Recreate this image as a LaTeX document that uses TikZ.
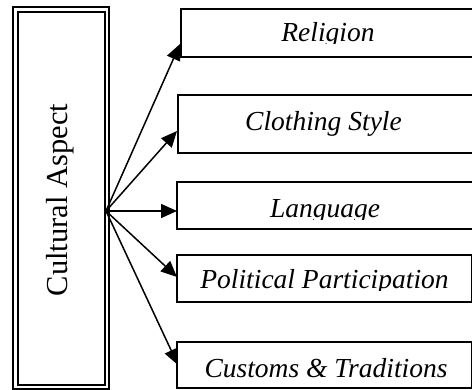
\documentclass[tikz,border=0pt]{standalone}
\usepackage{fontspec}
\setmainfont{Liberation Serif}
\usetikzlibrary{arrows.meta}
\tikzset{
  itembox/.style={draw, line width=1.8pt, inner sep=0pt},
  itemtext/.style={anchor=base, inner sep=0pt, font=\fontsize{27.5}{30}\selectfont\itshape},
  arr/.style={line width=1.5pt, -{Triangle[length=16pt,width=14pt]}},
}
\begin{document}
\begin{tikzpicture}[x=1pt,y=-1pt]
\clip (0,0) rectangle (472,389);
\fill[white] (0,0) rectangle (472,389);
% left double box
\node[draw, double, line width=1.9pt, double distance=2.3pt, minimum width=91.5pt, minimum height=377.5pt, inner sep=0pt] (cult) at (61.25,198.25) {};
\node[rotate=90, anchor=base, inner sep=0pt, font=\fontsize{30.5}{33}\selectfont] (culttext) at (67,200) {Cultural Aspect};
% right boxes
\node[itembox, minimum width=295pt, minimum height=48pt] (b1) at (328.5,33) {};
\node[itembox, minimum width=298pt, minimum height=58pt] (b2) at (327,124) {};
\node[itembox, minimum width=299pt, minimum height=47pt] (b3) at (326.5,205.5) {};
\node[itembox, minimum width=294.5pt, minimum height=47pt] (b4) at (324.25,278.5) {};
\node[itembox, minimum width=294.5pt, minimum height=46pt] (b5) at (324.25,365) {};
% texts (some clipped as in the reference)
\begin{scope}
\clip (181,9) rectangle (476,43.5);
\node[itemtext] (t1) at (328,41) {Religion};
\end{scope}
\node[itemtext] (t2) at (323.5,130) {Clothing Style};
\begin{scope}
\clip (177,182) rectangle (476,219);
\node[itemtext] (t3) at (325,217) {Language};
\end{scope}
\begin{scope}
\clip (177,255) rectangle (476,290);
\node[itemtext] (t4) at (324.5,288) {Political Participation};
\end{scope}
\node[itemtext] (t5) at (326,377) {Customs \& Traditions};
% arrows
\coordinate (src) at (106,211);
\coordinate (e1) at (180,44);
\coordinate (e2) at (177,131);
\coordinate (e3) at (177,211);
\coordinate (e4) at (177,277);
\coordinate (e5) at (178,365);
\foreach \e in {e1,e2,e3,e4,e5} \draw[arr] (src) -- (\e);
\end{tikzpicture}
\end{document}
